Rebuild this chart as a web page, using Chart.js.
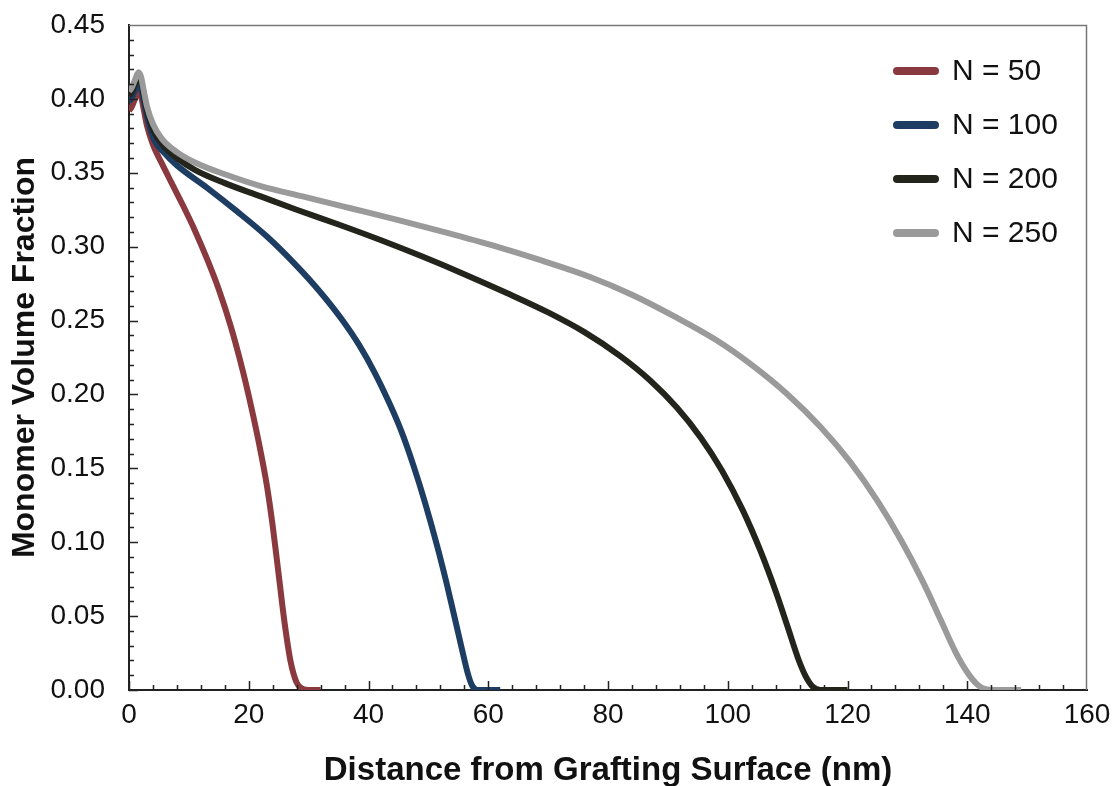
<!DOCTYPE html>
<html>
<head>
<meta charset="utf-8">
<script src="https://cdn.jsdelivr.net/npm/chart.js@4.4.1/dist/chart.umd.min.js"></script>
<style>
  html, body { margin: 0; padding: 0; background: #fff; }
  #wrap { width: 1116px; height: 786px; }
</style>
</head>
<body>
<div id="wrap"><canvas id="profile" width="1116" height="786"></canvas></div>
<script>
// monomer volume fraction profiles: [distance nm, phi]
const seriesLabels = ['N = 50', 'N = 100', 'N = 200', 'N = 250'];
const seriesColors = ['#8a3a3e', '#1e3d62', '#23251c', '#9a9a9a'];

const n50 = [
  [0, 0.392], [0.5, 0.395], [1, 0.400], [1.6, 0.405], [2, 0.402], [2.5, 0.392], [3, 0.382],
  [4, 0.369], [5.4, 0.357], [7, 0.344], [9, 0.328], [11, 0.311], [13, 0.292], [15, 0.271],
  [17, 0.246], [19, 0.216], [20.5, 0.190], [22, 0.161], [23, 0.139], [24, 0.111],
  [25, 0.078], [26, 0.045], [27, 0.019], [28, 0.005], [29, 0.0008], [30, 0], [32, 0]
];

const n100 = [
  [0, 0.398], [0.5, 0.401], [1, 0.406], [1.6, 0.410], [2, 0.407], [2.5, 0.398], [3, 0.388],
  [4, 0.374], [6, 0.363], [8, 0.355], [13, 0.340], [18, 0.324], [23, 0.307], [28, 0.287],
  [32, 0.269], [35.5, 0.251], [38.5, 0.233], [41, 0.215], [43.5, 0.194], [45.5, 0.175],
  [47.5, 0.152], [49.5, 0.126], [51.5, 0.097], [53, 0.073], [54.5, 0.047], [55.7, 0.026],
  [56.6, 0.011], [57.3, 0.003], [58.2, 0], [62, 0]
];

const n200 = [
  [0, 0.402], [0.5, 0.405], [1, 0.410], [1.6, 0.415], [2, 0.412], [2.5, 0.402], [3, 0.392],
  [4, 0.379], [6, 0.367], [8, 0.360], [11, 0.352], [16, 0.343], [22, 0.334], [28, 0.325],
  [35, 0.315], [42, 0.3045], [49, 0.2933], [56, 0.2814], [63, 0.2688], [70, 0.2555],
  [76, 0.2423], [82, 0.2261], [87, 0.2096], [91.5, 0.1911], [95.5, 0.1707], [99, 0.1487],
  [102.5, 0.1217], [105.5, 0.0938], [108, 0.0668], [110, 0.0428], [111.8, 0.0208],
  [113, 0.0094], [114.2, 0.0022], [115.5, 0], [120, 0]
];

const n250 = [
  [0, 0.405], [0.5, 0.408], [1, 0.413], [1.6, 0.418], [2, 0.415], [2.5, 0.405], [3, 0.395],
  [4, 0.383], [5.5, 0.373], [8, 0.364], [11, 0.357], [16, 0.349], [22, 0.341], [29, 0.334],
  [37, 0.326], [45, 0.318], [53, 0.3095], [61, 0.3005], [69, 0.2905], [77, 0.2795],
  [84, 0.2675], [91, 0.253], [98, 0.237], [104, 0.220], [110, 0.200], [115.5, 0.178],
  [120.5, 0.154], [125, 0.128], [129, 0.101], [132.5, 0.074], [135.5, 0.048],
  [138, 0.026], [140, 0.012], [141.6, 0.004], [143, 0.0006], [144.5, 0], [149, 0]
];

const xTicks = [0, 20, 40, 60, 80, 100, 120, 140, 160];
const yTicks = [0, 0.05, 0.1, 0.15, 0.2, 0.25, 0.3, 0.35, 0.4, 0.45];

const FONT = "'Liberation Sans', Arial, Helvetica, sans-serif";

const toPoints = rows => rows.map(([x, y]) => ({ x, y }));

// inward minor/major ticks on the left and bottom axes, thin frame on top and right
const axisFrame = {
  id: 'axisFrame',
  afterDraw(chart) {
    const { ctx, chartArea: a, scales: { x, y } } = chart;
    ctx.save();
    ctx.strokeStyle = '#777';
    ctx.lineWidth = 1.5;
    ctx.beginPath();
    ctx.moveTo(a.left, a.top + 0.5);
    ctx.lineTo(a.right - 0.5, a.top + 0.5);
    ctx.lineTo(a.right - 0.5, a.bottom);
    ctx.stroke();

    ctx.strokeStyle = '#222';
    ctx.lineWidth = 1.5;
    ctx.beginPath();
    for (let v = x.min; v < x.max; v += 4) {
      const px = Math.round(x.getPixelForValue(v)) + 0.5;
      const len = v % 20 === 0 ? 9 : 5;
      ctx.moveTo(px, a.bottom);
      ctx.lineTo(px, a.bottom - len);
    }
    for (let i = 0; i < 45; i++) {
      const py = Math.round(y.getPixelForValue(i / 100)) + 0.5;
      const len = i % 5 === 0 ? 9 : 5;
      ctx.moveTo(a.left, py);
      ctx.lineTo(a.left + len, py);
    }
    ctx.stroke();
    ctx.restore();
  }
};

// legend box sitting inside the plot, upper right
const insideLegend = {
  id: 'insideLegend',
  afterDraw(chart) {
    const { ctx, chartArea: a } = chart;
    ctx.save();
    ctx.font = '30px ' + FONT;
    ctx.textBaseline = 'middle';
    ctx.fillStyle = '#111';
    ctx.lineCap = 'round';
    ctx.lineWidth = 8;
    chart.data.datasets.forEach((ds, i) => {
      const yPos = a.top + 46 + i * 54;
      ctx.strokeStyle = ds.borderColor;
      ctx.beginPath();
      ctx.moveTo(a.right - 190, yPos);
      ctx.lineTo(a.right - 152, yPos);
      ctx.stroke();
      ctx.fillText(ds.label, a.right - 135, yPos + 1);
    });
    ctx.restore();
  }
};

const allSeries = [n50, n100, n200, n250];

new Chart(document.getElementById('profile'), {
  type: 'line',
  data: {
    datasets: allSeries.map((rows, i) => ({
      label: seriesLabels[i],
      data: toPoints(rows),
      borderColor: seriesColors[i],
      backgroundColor: seriesColors[i],
      borderWidth: 6,
      pointRadius: 0,
      cubicInterpolationMode: 'monotone',
      fill: false,
      order: allSeries.length - i
    }))
  },
  options: {
    responsive: false,
    animation: false,
    layout: { padding: { top: 25, right: 29, left: 0, bottom: 0 } },
    plugins: {
      legend: { display: false },
      tooltip: { enabled: false }
    },
    scales: {
      x: {
        type: 'linear',
        min: 0,
        max: 160,
        afterBuildTicks: s => { s.ticks = xTicks.map(v => ({ value: v })); },
        afterFit: s => { s.height = 96; s.paddingLeft = 0; s.paddingRight = 0; },
        grid: { display: false, drawTicks: false },
        border: { display: true, color: '#222', width: 2 },
        ticks: {
          padding: 8,
          color: '#111',
          maxRotation: 0,
          font: { family: FONT, size: 28 }
        },
        title: {
          display: true,
          text: 'Distance from Grafting Surface (nm)',
          color: '#111',
          font: { family: FONT, size: 33, weight: 'bold' },
          padding: { top: 0, bottom: -5 }
        }
      },
      y: {
        type: 'linear',
        min: 0,
        max: 0.45,
        afterBuildTicks: s => { s.ticks = yTicks.map(v => ({ value: v })); },
        afterFit: s => { s.width = 129; s.paddingTop = 0; s.paddingBottom = 0; },
        grid: { display: false, drawTicks: false },
        border: { display: true, color: '#222', width: 2 },
        ticks: {
          padding: 24,
          color: '#111',
          font: { family: FONT, size: 28 },
          callback: v => v.toFixed(2)
        },
        title: {
          display: true,
          text: 'Monomer Volume Fraction',
          color: '#111',
          font: { family: FONT, size: 32, weight: 'bold' },
          padding: { top: 6, bottom: 0 }
        }
      }
    }
  },
  plugins: [axisFrame, insideLegend]
});
</script>
</body>
</html>
